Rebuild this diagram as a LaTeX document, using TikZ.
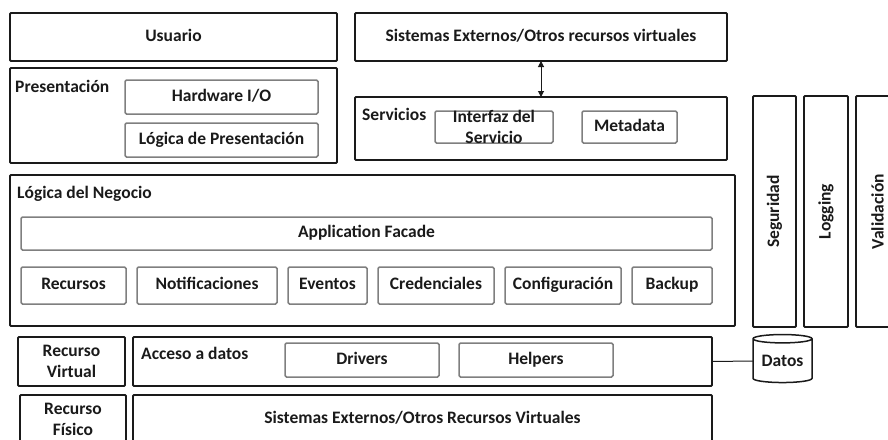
\documentclass[tikz,border=0pt]{standalone}
\usepackage{fontspec}
\setmainfont{Carlito}
\usepackage{tikz}
\usetikzlibrary{arrows.meta,positioning,shapes.geometric}
\definecolor{arqInk}{HTML}{1A1A1A}
\definecolor{arqGray}{HTML}{7F7F7F}
\newcommand{\arqfont}{\fontsize{17.5}{21}\selectfont\bfseries}
\tikzset{
  layer box/.style={draw=arqInk,line width=1.8pt,rounded corners=1pt,outer sep=0pt,
    inner sep=0pt,align=center,font=\arqfont,text=arqInk},
  one line/.style={text height=12pt,text depth=4pt},
  part box/.style={draw=arqGray,line width=1.5pt,rounded corners=1.5pt,fill=white,outer sep=0pt,
    inner sep=0pt,align=center,font=\arqfont,text=arqInk,one line},
  layer title/.style={anchor=north west,inner sep=0pt,font=\arqfont,text=arqInk,text height=11pt},
  layer arrow/.style={{Triangle[length=6pt,width=6pt]}-{Triangle[length=6pt,width=6pt]},line width=1pt,draw=arqInk}
}
\begin{document}
\begin{tikzpicture}[x=1pt,y=-1pt,node distance=8pt and 8pt]
\useasboundingbox (0,0) rectangle (888,439);
\clip (0,0) rectangle (888,439);
% top row
\node[layer box,one line,minimum width=327pt,minimum height=48pt,anchor=north west] (usuario) at (10,13) {Usuario};
\node[layer box,one line,minimum width=372pt,minimum height=48pt,anchor=north west] (externos) at (355,13) {Sistemas Externos/Otros recursos virtuales};
% presentacion
\node[layer box,minimum width=327pt,minimum height=95pt,below=7pt of usuario] (presentacion) {};
\node[layer title] (presTitle) at ([shift={(5,13)}]presentacion.north west) {Presentación};
\node[part box,minimum width=193pt,minimum height=34pt,anchor=north west] (hardware) at (125,80) {Hardware I/O};
\node[part box,minimum width=193pt,minimum height=34pt,below=9pt of hardware] (logPres) {Lógica de Presentación};
% servicios
\node[layer box,minimum width=372pt,minimum height=63pt,below=36pt of externos] (servicios) {};
\node[layer title] (servTitle) at ([shift={(7,12)}]servicios.north west) {Servicios};
\node[part box,minimum width=118pt,minimum height=32pt,anchor=north west,
  label={[font=\arqfont,text=arqInk,align=center]center:{Interfaz del\\Servicio}}] (interfaz) at (435,111) {};
\node[part box,minimum width=95pt,minimum height=32pt,anchor=north west] (metadata) at (582,111) {Metadata};
\draw[layer arrow] (externos.south) -- (servicios.north);
% logica del negocio
\node[layer box,minimum width=725pt,minimum height=151pt,anchor=north west] (negocio) at (10,175) {};
\node[layer title] (negTitle) at ([shift={(7,12)}]negocio.north west) {Lógica del Negocio};
\node[part box,minimum width=691pt,minimum height=33pt,anchor=north west] (facade) at (21,217) {Application Facade};
\node[part box,minimum width=105pt,minimum height=37pt,anchor=north west] (recursos) at (21,267) {Recursos};
\node[part box,minimum width=140pt,minimum height=37pt,right=11pt of recursos] (notif) {Notificaciones};
\node[part box,minimum width=79pt,minimum height=37pt,right=11pt of notif] (eventos) {Eventos};
\node[part box,minimum width=116pt,minimum height=37pt,right=11pt of eventos] (cred) {Credenciales};
\node[part box,minimum width=116pt,minimum height=37pt,right=11pt of cred] (config) {Configuración};
\node[part box,minimum width=80pt,minimum height=37pt,right=11pt of config] (backup) {Backup};
% transversales
\node[layer box,minimum width=43pt,minimum height=231pt,anchor=north west] (seguridad) at (753,96) {\rotatebox{90}{Seguridad}};
\node[layer box,minimum width=44pt,minimum height=231pt,right=8pt of seguridad] (logging) {\rotatebox{90}{Logging}};
\node[layer box,minimum width=43pt,minimum height=231pt,right=8pt of logging] (validacion) {\rotatebox{90}{Validación}};
% acceso a datos
\node[layer box,minimum width=107pt,minimum height=49pt,anchor=north west] (recVirtual) at (18,337) {Recurso\\Virtual};
\node[layer box,minimum width=579pt,minimum height=49pt,right=8pt of recVirtual] (acceso) {};
\node[layer title] (accTitle) at ([shift={(8,11)}]acceso.north west) {Acceso a datos};
\node[part box,minimum width=154pt,minimum height=34pt,anchor=north west] (drivers) at (285,343) {Drivers};
\node[part box,minimum width=154pt,minimum height=34pt,right=20pt of drivers] (helpers) {Helpers};
\node[draw=arqInk,line width=1.5pt,cylinder,shape border rotate=90,aspect=0.2,minimum width=59pt,minimum height=48pt,
  inner sep=0pt,outer sep=0pt,font=\arqfont,text=arqInk] (datos) at (782.5,361) {Datos};
\draw[draw=arqInk,line width=1pt] (acceso.east) -- (datos.west);
% fisico
\node[layer box,minimum width=106pt,minimum height=49pt,anchor=north west] (recFisico) at (20,395) {Recurso\\Físico};
\node[layer box,one line,minimum width=579pt,minimum height=49pt,anchor=north west] (sisFisico) at (133,395) {Sistemas Externos/Otros Recursos Virtuales};
\end{tikzpicture}
\end{document}
